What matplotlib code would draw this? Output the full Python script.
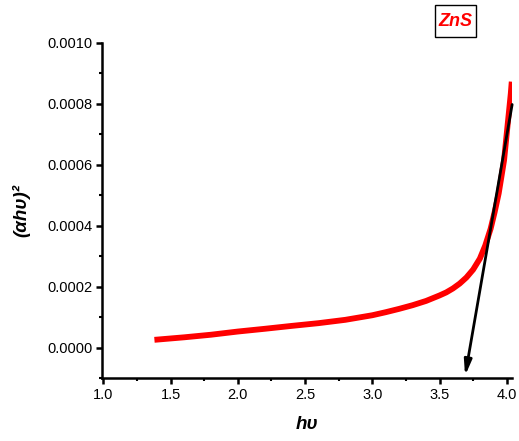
import matplotlib
matplotlib.use("Agg")
import matplotlib.pyplot as plt
from matplotlib.patches import Rectangle
from matplotlib.ticker import MultipleLocator, FormatStrFormatter

plt.rcParams['font.family'] = ['Liberation Sans', 'DejaVu Sans']

# Tauc plot data for ZnS
hv = [1.38, 1.6, 1.8, 2.0, 2.2, 2.4, 2.6, 2.8, 3.0, 3.1, 3.2, 3.3, 3.4,
      3.5, 3.55, 3.6, 3.65, 3.7, 3.75, 3.8, 3.84, 3.88, 3.91, 3.94, 3.96,
      3.98, 4.005, 4.02, 4.03, 4.037]
ahv2 = [0.0000253, 0.0000335, 0.0000420, 0.0000525, 0.0000615, 0.0000710,
        0.0000800, 0.0000910, 0.000106, 0.000116, 0.000127, 0.000139,
        0.000153, 0.000171, 0.000181, 0.000194, 0.000210, 0.000230,
        0.000256, 0.000292, 0.000335, 0.000390, 0.000445, 0.000506,
        0.000560, 0.000615, 0.000725, 0.000790, 0.000834, 0.000873]

# linear extrapolation to the energy axis
fit_start = (4.04, 0.000798)
fit_end = (3.69, -0.0000930)

fig = plt.figure(figsize=(5.19, 4.41), dpi=100)
ax = fig.add_axes([0.1965, 0.1429, 0.7895, 0.7596])

ax.plot(hv, ahv2, color='#ff0000', linewidth=4.2, solid_capstyle='butt')
ax.annotate('', xy=fit_end, xytext=fit_start,
            arrowprops=dict(arrowstyle='-|>,head_length=0.9,head_width=0.22',
                            color='black', lw=2.0, shrinkA=0, shrinkB=0))

ax.set_xlim(0.99, 4.037)
ax.set_ylim(-0.0001, 0.001)

ax.xaxis.set_major_locator(MultipleLocator(0.5))
ax.xaxis.set_minor_locator(MultipleLocator(0.25))
ax.yaxis.set_major_locator(MultipleLocator(0.0002))
ax.yaxis.set_minor_locator(MultipleLocator(0.0001))
ax.xaxis.set_major_formatter(FormatStrFormatter('%.1f'))
ax.yaxis.set_major_formatter(FormatStrFormatter('%.4f'))

for side in ('top', 'right'):
    ax.spines[side].set_visible(False)
for side in ('left', 'bottom'):
    ax.spines[side].set_linewidth(1.8)

ax.tick_params(which='major', direction='out', length=4, width=1.8,
               labelsize=10.5, pad=3)
ax.tick_params(which='minor', direction='out', length=2.5, width=1.5)

ax.set_xlabel('hυ', fontsize=13.5, fontweight='bold', fontstyle='italic',
              labelpad=10)
ax.set_ylabel('(αhυ)²', fontsize=13.5, fontweight='bold', fontstyle='italic',
              labelpad=12)

# sample tag in a framed box
fig.patches.append(Rectangle((0.838, 0.916), 0.079, 0.0726,
                             transform=fig.transFigure, facecolor='white',
                             edgecolor='black', linewidth=1.0))
fig.text(0.8776, 0.952, 'ZnS', color='#ff0000', fontsize=13,
         fontweight='bold', fontstyle='italic', ha='center', va='center')

fig.savefig('out.png', dpi=100)
